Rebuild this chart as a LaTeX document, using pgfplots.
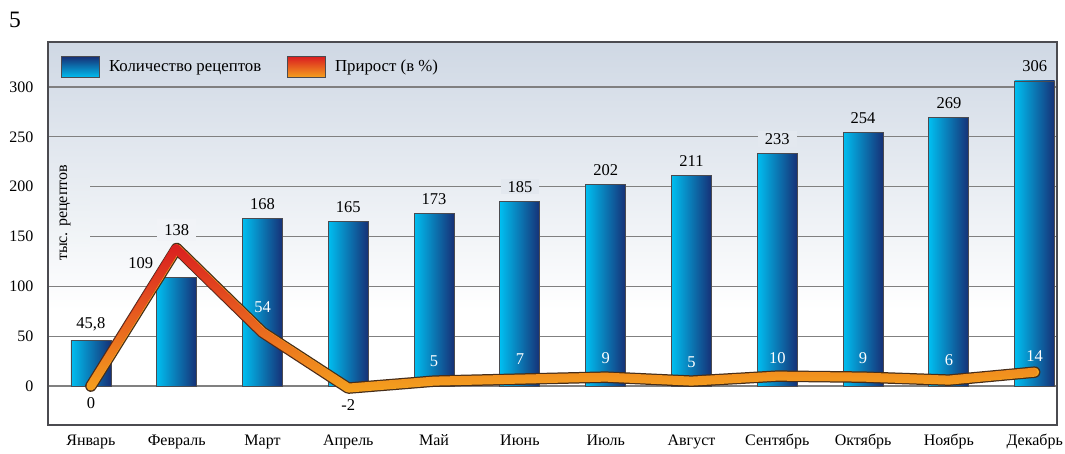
\documentclass[border=0pt]{standalone}
\usepackage{fontspec}
\setmainfont{Liberation Serif}
\usepackage{pgfplots}
\pgfplotsset{compat=1.18}
\usetikzlibrary{fadings}
\definecolor{barL}{RGB}{0,190,240}
\definecolor{barR}{RGB}{22,48,118}
\definecolor{bgtop}{RGB}{207,216,228}
\definecolor{bglab}{RGB}{227,232,239}
\definecolor{bglab2}{RGB}{241,243,247}
\definecolor{bgyt}{RGB}{230,235,241}
\definecolor{bgyb}{RGB}{243,246,248}
\definecolor{gridc}{RGB}{128,128,128}
\definecolor{framec}{RGB}{75,75,80}
\definecolor{lineO}{RGB}{245,162,30}
\definecolor{lineR}{RGB}{218,30,32}
\definecolor{lineOut}{RGB}{70,45,25}
\pgfdeclareverticalshading{bgshade}{100bp}{color(0bp)=(white); color(40bp)=(white); color(75bp)=(bgtop); color(100bp)=(bgtop)}
\tikzfading[name=redfade, top color=transparent!0, middle color=transparent!55, bottom color=transparent!100]
\pgfplotstableread{
x y dx op
0 45.8 0 0
1 109 -36 0
2 168 0 0
3 165 0 0
4 173 0 0
5 185 0 1
6 202 0 0
7 211 0 0
8 233 0 1
9 254 0 0
10 269 0 0
11 306 0 0
}\recipes
\pgfplotstableread{
x y
0 0
1 138
2 54
3 -2
4 5
5 7
6 9
7 5
8 10
9 9
10 6
11 14
}\growth
\pgfplotstableread{
x y dy
2 54 14.3
4 5 9.3
5 7 9.3
6 9 8.3
7 5 8.3
8 10 7.3
9 9 8.3
10 6 9.3
11 14 5.3
}\growthwhite
\pgfplotstableread{
x y dy op
0 0 -27.7 0
1 138 7.3 1
3 -2 -6.3 0
}\growthdark
\pgfplotsset{barsty/.style={forget plot, ybar, bar width=40pt, draw=framec, line width=0.8pt,
  left color=barL, right color=barR}}
\begin{document}
\fontsize{16}{19}\selectfont
\begin{tikzpicture}
\useasboundingbox (0,0) rectangle (1065pt,-453pt);
\node[anchor=north west, inner sep=0pt] at (9pt,-12pt) {\fontsize{23.5}{28}\selectfont 5};
\begin{axis}[
  at={(48pt,-425pt)}, anchor=south west,
  scale only axis, width=1009pt, height=383pt,
  xmin=-0.5, xmax=11.26, ymin=-39, ymax=345,
  xtick={0,...,11},
  xticklabels={Январь,Февраль,Март,Апрель,Май,Июнь,Июль,Август,Сентябрь,Октябрь,Ноябрь,Декабрь},
  ytick={0,50,...,300},
  major tick length=0pt,
  ymajorgrids, grid style={gridc, line width=1.3pt},
  axis line style={framec, line width=1.5pt},
  tick label style={font=\fontsize{16}{19}\selectfont},
  /pgf/number format/assume math mode=true,
  /pgf/number format/use comma,
  yticklabel style={xshift=-9pt},
  xticklabel style={yshift=-4pt},
  axis background/.style={shading=bgshade},
  legend style={at={(rel axis cs:0,1)}, anchor=north west, xshift=10pt, yshift=-12pt,
    draw=none, fill=none, legend columns=2, font=\fontsize{16.8}{19}\selectfont,
    /tikz/every even column/.append style={column sep=24pt},
    /tikz/every odd column/.append style={column sep=7pt}},
  legend cell align=left,
]
\addlegendimage{legend image code/.code={\draw[framec, line width=0.8pt, top color=barR, bottom color=barL] (0pt,-10.5pt) rectangle (38pt,10.5pt);}}
\addlegendentry{Количество рецептов}
\addlegendimage{legend image code/.code={\draw[framec, line width=0.8pt, top color=lineR, bottom color=lineO] (0pt,-10.5pt) rectangle (38pt,10.5pt);}}
\addlegendentry{Прирост (в \%)}

\addplot[barsty] coordinates {(0,45.8)};
\addplot[barsty] coordinates {(1,109)};
\addplot[barsty] coordinates {(2,168)};
\addplot[barsty] coordinates {(3,165)};
\addplot[barsty] coordinates {(4,173)};
\addplot[barsty] coordinates {(5,185)};
\addplot[barsty] coordinates {(6,202)};
\addplot[barsty] coordinates {(7,211)};
\addplot[barsty] coordinates {(8,233)};
\addplot[barsty] coordinates {(9,254)};
\addplot[barsty] coordinates {(10,269)};
\addplot[barsty] coordinates {(11,306)};

\addplot[forget plot, draw=none, mark=none, nodes near coords, point meta=y,
  visualization depends on={\thisrow{dx}\as\dx},
  visualization depends on={\thisrow{op}\as\op},
  every node near coord/.append style={text=black, xshift=\dx pt, yshift=7pt,
    fill=bglab, fill opacity=\op, text opacity=1, inner xsep=7pt, inner ysep=2pt,
    font=\fontsize{16.5}{19}\selectfont}] table[x=x, y=y] {\recipes};

\addplot[forget plot, lineOut, line width=11.5pt, line join=round, line cap=round] table[x=x, y=y] {\growth};
\addplot[forget plot, lineO, line width=9pt, line join=round, line cap=round] table[x=x, y=y] {\growth};
\addplot[forget plot, lineR, line width=9pt, line join=round, line cap=round, path fading=redfade] table[x=x, y=y] {\growth};

\addplot[forget plot, draw=none, mark=none, nodes near coords, point meta=y,
  visualization depends on={\thisrow{dy}\as\dy},
  every node near coord/.append style={text=white, yshift=\dy pt,
    font=\fontsize{16.5}{19}\selectfont}] table[x=x, y=y] {\growthwhite};

\addplot[forget plot, draw=none, mark=none, nodes near coords, point meta=y,
  visualization depends on={\thisrow{dy}\as\dy},
  visualization depends on={\thisrow{op}\as\op},
  every node near coord/.append style={text=black, yshift=\dy pt,
    fill=bglab2, fill opacity=\op, text opacity=1, inner xsep=7pt,
    font=\fontsize{16.5}{19}\selectfont}] table[x=x, y=y] {\growthdark};

\shade[top color=bgyt, bottom color=bgyb] (axis cs:-0.488,140) rectangle (axis cs:-0.012,212);
\node[rotate=90, text=black] at (axis cs:-0.30,173.6) {тыс. рецептов};
\end{axis}
\end{tikzpicture}
\end{document}
